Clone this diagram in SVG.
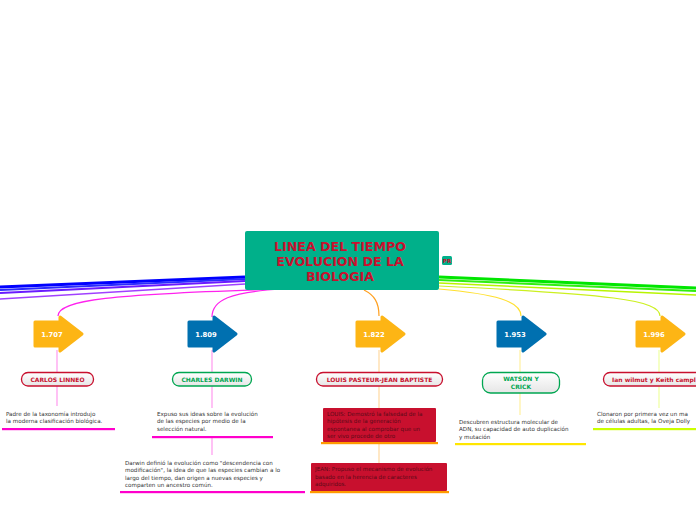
<svg xmlns="http://www.w3.org/2000/svg" width="696" height="520" viewBox="0 0 696 520">
<defs>
<linearGradient id="boxg" x1="0" y1="0" x2="0" y2="1">
<stop offset="0" stop-color="#ffffff"/>
<stop offset="1" stop-color="#e6e6e6"/>
</linearGradient>
<style>
.t{font-family:"DejaVu Sans",Verdana,sans-serif;}
.title{font-size:12.6px;font-weight:bold;fill:#c8102e;text-anchor:middle;}
.yr{font-size:6.8px;font-weight:bold;fill:#ffffff;text-anchor:middle;}
.nm{font-size:6px;font-weight:bold;text-anchor:middle;}
.nms{font-size:6px;font-weight:bold;text-anchor:start;}
.red{fill:#c8102e;}
.grn{fill:#00a651;}
.txt{font-size:5.6px;fill:#333333;}
.dtxt{font-size:5.6px;fill:#5a0a18;}
.nbox{fill:url(#boxg);stroke-width:1.3;}
.ay{fill:#fdb515;stroke:#fdb515;stroke-width:3;stroke-linejoin:round;}
.ab{fill:#0070b0;stroke:#0070b0;stroke-width:3;stroke-linejoin:round;}
.c{fill:none;}
</style>
</defs>

<g id="connectors">
<path class="c" d="M245 277 L0 287" stroke="#0000ff" stroke-width="3"/>
<path class="c" d="M245 279 L0 290" stroke="#2a2aff" stroke-width="2"/>
<path class="c" d="M245 281 L0 293" stroke="#6a1aff" stroke-width="1.8"/>
<path class="c" d="M245 284 L0 299" stroke="#a040ff" stroke-width="1.5"/>
<path class="c" d="M439 277 L696 288" stroke="#00e600" stroke-width="3"/>
<path class="c" d="M439 280 L696 291" stroke="#30ee10" stroke-width="2"/>
<path class="c" d="M439 283 L696 295" stroke="#b8f400" stroke-width="1.5"/>
<path class="c" d="M282 289 C110 294 58 300 58 316" stroke="#ff22ee" stroke-width="1.2"/>
<path class="c" d="M282 289 C230 292 212 300 212 317" stroke="#ff22ee" stroke-width="1.2"/>
<path class="c" d="M364 290 C374 295 379 302 379 316" stroke="#ffa020" stroke-width="1.2"/>
<path class="c" d="M439 289 C495 294 521 301 521 316" stroke="#ffe030" stroke-width="1.2"/>
<path class="c" d="M439 286 C610 294 660 300 660 316" stroke="#ccf020" stroke-width="1.2"/>
<g stroke-width="1.2" fill="none">
<path d="M57 350 V372 M57 386 V406" stroke="#ff99ee"/>
<path d="M212 350 V372 M212 386 V408 M212 438 V455" stroke="#ff99ee"/>
<path d="M379 350 V372 M379 386 V408 M379 443 V463" stroke="#ffd9a0"/>
<path d="M520 350 V372 M520 393 V415" stroke="#fff0a0"/>
<path d="M659 350 V372 M659 386 V408" stroke="#eeffa0"/>
</g>
</g>

<g id="center">
<rect x="245" y="231" width="194" height="59" rx="2" fill="#00b08a"/>
<text class="t title" x="340" y="251">LINEA DEL TIEMPO</text>
<text class="t title" x="340" y="266">EVOLUCION DE LA</text>
<text class="t title" x="340" y="281">BIOLOGIA</text>
<rect x="442" y="256" width="10" height="9" rx="1.5" fill="#00b08a"/>
<text class="t" x="447" y="263" font-size="5.5" font-weight="bold" fill="#c8102e" text-anchor="middle">PR</text>
</g>

<g id="y1707">
<path class="ay" d="M35 322 H60 V317 L82 334 L60 351 V346 H35 Z"/>
<text class="t yr" x="52" y="337">1.707</text>
</g>
<g id="y1809">
<path class="ab" d="M189 322 H214 V317 L236 334 L214 351 V346 H189 Z"/>
<text class="t yr" x="206" y="337">1.809</text>
</g>
<g id="y1822">
<path class="ay" d="M357 322 H382 V317 L404 334 L382 351 V346 H357 Z"/>
<text class="t yr" x="374" y="337">1.822</text>
</g>
<g id="y1953">
<path class="ab" d="M498 322 H523 V317 L545 334 L523 351 V346 H498 Z"/>
<text class="t yr" x="515" y="337">1.953</text>
</g>
<g id="y1996">
<path class="ay" d="M637 322 H662 V317 L684 334 L662 351 V346 H637 Z"/>
<text class="t yr" x="654" y="337">1.996</text>
</g>

<g id="linneo">
<rect class="nbox" x="21.5" y="372.5" width="72" height="13.5" rx="6.5" stroke="#c8102e"/>
<text class="t nm red" x="57.5" y="381.5">CARLOS LINNEO</text>
</g>
<g id="darwin">
<rect class="nbox" x="172.5" y="372.5" width="79" height="13.5" rx="6.5" stroke="#00a651"/>
<text class="t nm grn" x="212" y="381.5">CHARLES DARWIN</text>
</g>
<g id="pasteur">
<rect class="nbox" x="316.5" y="372.5" width="126" height="13.5" rx="6.5" stroke="#c8102e"/>
<text class="t nm red" x="379.5" y="381.5">LOUIS PASTEUR-JEAN BAPTISTE</text>
</g>
<g id="watson">
<rect class="nbox" x="482.5" y="372.5" width="77" height="20.5" rx="8" stroke="#00a651"/>
<text class="t nm grn" x="521" y="381">WATSON Y</text>
<text class="t nm grn" x="521" y="389">CRICK</text>
</g>
<g id="wilmut">
<rect class="nbox" x="603.5" y="372.5" width="100" height="13.5" rx="6.5" stroke="#c8102e"/>
<text class="t nms red" x="612" y="381.5">Ian wilmut y Keith campl</text>
</g>

<g id="t-linneo">
<text class="t txt" x="6" y="415.5">Padre de la taxonomía introdujo</text>
<text class="t txt" x="6" y="423">la moderna clasificación biológica.</text>
<rect x="2" y="428" width="113" height="2.2" fill="#ff00cc"/>
</g>
<g id="t-darwin1">
<text class="t txt" x="157" y="415.5">Expuso sus ideas sobre la evolución</text>
<text class="t txt" x="157" y="423">de las especies por medio de la</text>
<text class="t txt" x="157" y="431">selección natural.</text>
<rect x="152" y="436" width="121" height="2.2" fill="#ff00cc"/>
</g>
<g id="t-darwin2">
<text class="t txt" x="125" y="464.5">Darwin definió la evolución como "descendencia con</text>
<text class="t txt" x="125" y="472">modificación", la idea de que las especies cambian a lo</text>
<text class="t txt" x="125" y="479.5">largo del tiempo, dan origen a nuevas especies y</text>
<text class="t txt" x="125" y="487">comparten un ancestro común.</text>
<rect x="120" y="491" width="185" height="2.2" fill="#ff00cc"/>
</g>
<g id="t-louis">
<rect x="323" y="408" width="113" height="34" rx="1" fill="#c8102e"/>
<text class="t dtxt" x="327" y="415.5">LOUIS: Demostró la falsedad de la</text>
<text class="t dtxt" x="327" y="423">hipótesis de la generación</text>
<text class="t dtxt" x="327" y="430.5">espontanea al comprobar que un</text>
<text class="t dtxt" x="327" y="438">ser vivo procede de otro</text>
<rect x="321" y="442" width="117" height="2.2" fill="#ff9a00"/>
</g>
<g id="t-jean">
<rect x="311" y="463" width="136" height="28" rx="1" fill="#c8102e"/>
<text class="t dtxt" x="315" y="471">JEAN: Propuso el mecanismo de evolución</text>
<text class="t dtxt" x="315" y="478.5">basado en la herencia de caracteres</text>
<text class="t dtxt" x="315" y="486">adquiridos.</text>
<rect x="310" y="491" width="139" height="2.2" fill="#ff9a00"/>
</g>
<g id="t-watson">
<text class="t txt" x="459" y="423.5">Descubren estructura molecular de</text>
<text class="t txt" x="459" y="431">ADN, su capacidad de auto duplicación</text>
<text class="t txt" x="459" y="438.5">y mutación</text>
<rect x="455" y="443" width="131" height="2.2" fill="#ffe600"/>
</g>
<g id="t-wilmut">
<text class="t txt" x="597" y="415.5">Clonaron por primera vez un ma</text>
<text class="t txt" x="597" y="423">de células adultas, la Oveja Dolly</text>
<rect x="593" y="428" width="103" height="2.2" fill="#ccff00"/>
</g>
</svg>
